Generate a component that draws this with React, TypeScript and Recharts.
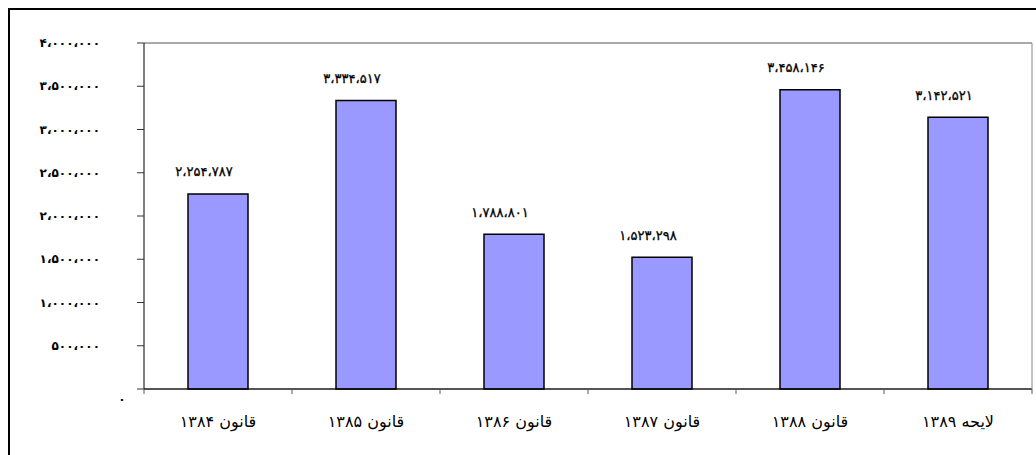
import React from 'react';
import { BarChart, Bar, XAxis, YAxis, CartesianGrid, LabelList } from 'recharts';

const categories = ['قانون ۱۳۸۴', 'قانون ۱۳۸۵', 'قانون ۱۳۸۶', 'قانون ۱۳۸۷', 'قانون ۱۳۸۸', 'لایحه ۱۳۸۹'];
const values = [2254787, 3334517, 1788801, 1523298, 3458146, 3142521];
const yTicks = [0, 500000, 1000000, 1500000, 2000000, 2500000, 3000000, 3500000, 4000000];

const faDigits = '۰۱۲۳۴۵۶۷۸۹';
function toFa(n: number): string {
  const s = String(n).replace(/\B(?=(\d{3})+(?!\d))/g, '،');
  return s.replace(/\d/g, (d) => faDigits[Number(d)]);
}

const data = categories.map((name, i) => ({ name, value: values[i] }));

const FONT = '"DejaVu Sans", Tahoma, sans-serif';
const X_TICK_MARGIN = 27;

const YTick = (props: any) => {
  const { x, y, payload } = props;
  const v = payload.value as number;
  if (v === 0) {
    return (
      <text x={x + 22} y={y + 10} textAnchor="middle" dominantBaseline="central" fontFamily={FONT} fontSize={12} fontWeight="bold" fill="#000">
        {toFa(v)}
      </text>
    );
  }
  return (
    <text x={x} y={y} textAnchor="end" dominantBaseline="central" fontFamily={FONT} fontSize={12} fontWeight="bold" fill="#000">
      {toFa(v)}
    </text>
  );
};

const XTick = (props: any) => {
  const { x, y, payload, index } = props;
  const half = payload && typeof payload.offset === 'number' && payload.offset > 0 ? payload.offset : 74;
  const axisY = y - X_TICK_MARGIN;
  const last = index === categories.length - 1;
  return (
    <g>
      <line x1={x - half} x2={x - half} y1={axisY} y2={axisY + 5} stroke="#555" />
      {last && <line x1={x + half} x2={x + half} y1={axisY} y2={axisY + 5} stroke="#555" />}
      <text x={x} y={y} dy="0.71em" textAnchor="middle" fontFamily={FONT} fontSize={16} fill="#000">
        {payload.value}
      </text>
    </g>
  );
};

const ValueLabel = (props: any) => {
  const { x, y, width, value } = props;
  return (
    <text x={x + width / 2 - 14} y={y - 22} textAnchor="middle" dominantBaseline="central" fontFamily={FONT} fontSize={13} fill="#000" stroke="#000" strokeWidth={0.3}>
      {toFa(value)}
    </text>
  );
};

export default function App() {
  return (
    <div
      style={{
        position: 'fixed',
        left: 8,
        top: 8,
        width: 1028,
        height: 447,
        borderTop: '2px solid #000',
        borderLeft: '2px solid #000',
        background: '#fff',
        boxSizing: 'border-box',
      }}
    >
      <BarChart
        width={1026}
        height={445}
        data={data}
        margin={{ top: 33, right: 3, left: 0, bottom: 0 }}
      >
        <CartesianGrid vertical={false} stroke="#555" strokeWidth={1} />
        <XAxis
          xAxisId="cat"
          dataKey="name"
          height={66}
          tickLine={false}
          axisLine={{ stroke: '#000' }}
          tickSize={0}
          tickMargin={X_TICK_MARGIN}
          tick={<XTick />}
          interval={0}
        />
        <YAxis
          yAxisId="left"
          width={134}
          domain={[0, 4000000]}
          ticks={yTicks}
          interval={0}
          tickSize={7}
          tickMargin={37}
          tick={<YTick />}
          tickLine={{ stroke: '#333' }}
          axisLine={{ stroke: '#000' }}
        />
        <YAxis
          yAxisId="right"
          orientation="right"
          width={1}
          domain={[0, 4000000]}
          tick={false}
          tickLine={false}
          axisLine={{ stroke: '#888' }}
        />
        <Bar
          xAxisId="cat"
          yAxisId="left"
          dataKey="value"
          fill="#9999FF"
          stroke="#000"
          strokeWidth={1.5}
          barSize={60}
          isAnimationActive={false}
        >
          <LabelList dataKey="value" content={<ValueLabel />} />
        </Bar>
      </BarChart>
    </div>
  );
}
